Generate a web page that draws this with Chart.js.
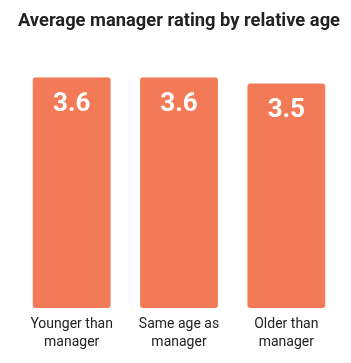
<!DOCTYPE html>
<html>
<head>
<meta charset="utf-8">
<script src="https://cdn.jsdelivr.net/npm/chart.js@4/dist/chart.umd.min.js"></script>
<style>
html,body{margin:0;padding:0;background:#fff;}
#wrap{width:351px;height:363px;position:relative;}
</style>
</head>
<body>
<div id="wrap"><canvas id="c"></canvas></div>
<script>
const categories = [["Younger than","manager"],["Same age as","manager"],["Older than","manager"]];
const ratings = [3.6, 3.6, 3.5];
const valueLabels = ["3.6", "3.6", "3.5"];
const chartTitle = "Average manager rating by relative age";

const barLabelPlugin = {
  id: 'barLabels',
  afterDatasetsDraw(chart) {
    const ctx = chart.ctx;
    const meta = chart.getDatasetMeta(0);
    ctx.save();
    ctx.fillStyle = '#ffffff';
    ctx.font = 'bold 26px Roboto';
    ctx.textAlign = 'center';
    ctx.textBaseline = 'middle';
    meta.data.forEach((bar, i) => {
      ctx.fillText(valueLabels[i], bar.x, bar.y + 27);
    });
    ctx.restore();
  }
};

new Chart(document.getElementById('c'), {
  type: 'bar',
  data: {
    labels: categories,
    datasets: [{
      data: ratings,
      backgroundColor: '#F37A57',
      borderRadius: 3,
      borderSkipped: false,
      categoryPercentage: 1,
      barPercentage: 0.725
    }]
  },
  options: {
    responsive: true,
    maintainAspectRatio: false,
    animation: false,
    layout: { padding: { left: 18, right: 11, top: 0, bottom: 3 } },
    plugins: {
      legend: { display: false },
      tooltip: { enabled: false },
      title: {
        display: true,
        text: chartTitle,
        color: '#222222',
        font: { family: 'Roboto', size: 18.5, weight: 'bold', lineHeight: 1.2 },
        padding: { top: 10, bottom: 45 }
      }
    },
    scales: {
      x: {
        grid: { display: false, drawTicks: false },
        border: { display: false },
        ticks: {
          color: '#222222',
          font: { family: 'Roboto', size: 14, lineHeight: 1.286 },
          padding: 8,
          maxRotation: 0
        }
      },
      y: {
        display: false,
        min: 0,
        max: 3.6
      }
    }
  },
  plugins: [barLabelPlugin]
});
</script>
</body>
</html>
